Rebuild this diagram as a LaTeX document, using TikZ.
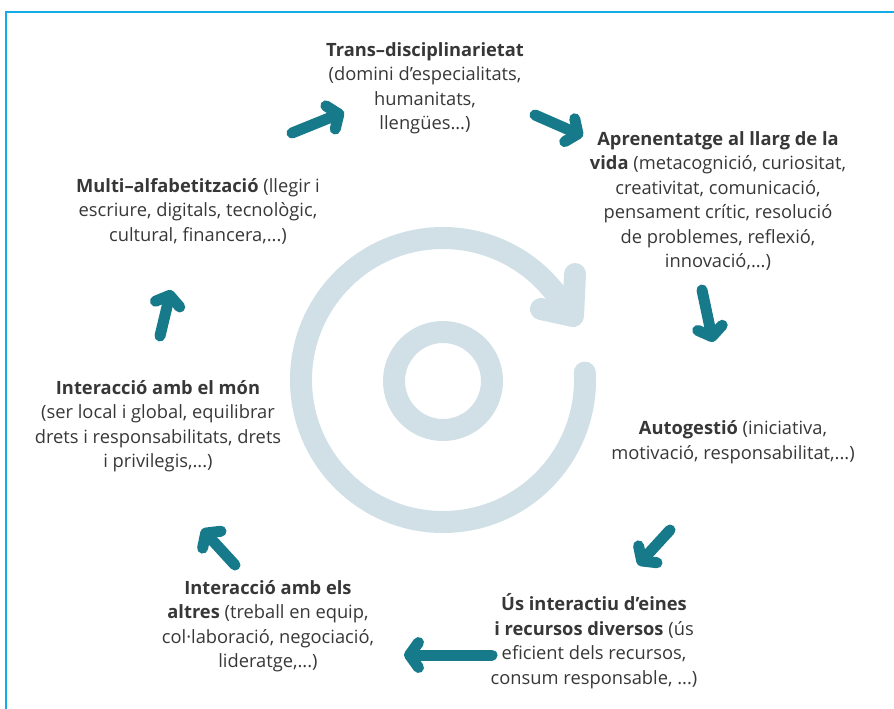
\documentclass[tikz,border=0pt]{standalone}
\usepackage{fontspec}
\setmainfont{Open Sans}
\usetikzlibrary{arrows.meta}
\definecolor{framecyan}{RGB}{20,172,230}
\definecolor{ringgrey}{RGB}{208,224,230}
\definecolor{arrowteal}{RGB}{22,122,138}
\definecolor{textgrey}{RGB}{55,55,55}

\begin{document}
\begin{tikzpicture}[x=1pt,y=-1pt,
  txt/.style={align=center,text=textgrey,inner sep=0pt,font=\fontsize{18.3}{24.5}\selectfont},
  ring/.style={draw=ringgrey,line width=22pt,line cap=round,line join=round},
  stepArrow/.style={draw=arrowteal,line width=11pt,line cap=round,
    -{Straight Barb[length=9pt,width=25pt,round]}}]
\useasboundingbox (0,0) rectangle (894,709);
% frame
\draw[framecyan,line width=2pt] (6,709) -- (6,12) -- (894,12);

% central cycle
\draw[ring] (443,380) ++(-3:142) arc[start angle=-3,end angle=332,radius=142];
\draw[ring] (575,274) -- (573,316) -- (541,309);
\draw[ring] (443,381) circle[radius=49];

% competences
\node[txt] (trans) at (425,88) {\textbf{Trans–disciplinarietat}\\(domini d’especialitats,\\humanitats,\\llengües...)};
\node[txt] (aprenentatge) at (718,201) {\textbf{Aprenentatge al llarg de la}\\\textbf{vida} (metacognició, curiositat,\\creativitat, comunicació,\\pensament crític, resolució\\de problemes, reflexió,\\innovació,...)};
\node[txt] (autogestio) at (733,442) {\textbf{Autogestió} (iniciativa,\\motivació, responsabilitat,...)};
\node[txt] (eines) at (594,641) {\textbf{Ús interactiu d’eines}\\\textbf{i recursos diversos} (ús\\eficient dels recursos,\\consum responsable, ...)};
\node[txt] (altres) at (268,626) {\textbf{Interacció amb els}\\\textbf{altres} (treball en equip,\\col·laboració, negociació,\\lideratge,...)};
\node[txt] (mon) at (158,426) {\textbf{Interacció amb el món}\\(ser local i global, equilibrar\\drets i responsabilitats, drets\\i privilegis,...)};
\node[txt] (multi) at (198,211) {\textbf{Multi–alfabetització} (llegir i\\escriure, digitals, tecnològic,\\cultural, financera,...)};

% arrows between the competences
\coordinate (a1s) at (292,133); \coordinate (a1e) at (344,112);
\coordinate (a2s) at (535,115); \coordinate (a2e) at (583,136);
\coordinate (a3s) at (702,290); \coordinate (a3e) at (713,342);
\coordinate (a4s) at (670,530); \coordinate (a4e) at (638,565);
\coordinate (a5s) at (492,655); \coordinate (a5e) at (404,655);
\coordinate (a6s) at (235,565); \coordinate (a6e) at (202,529);
\coordinate (a7s) at (160,336); \coordinate (a7e) at (171,290);
\foreach \s/\e in {a1s/a1e,a2s/a2e,a3s/a3e,a4s/a4e,a5s/a5e,a6s/a6e,a7s/a7e}
  \draw[stepArrow] (\s) -- (\e);
\end{tikzpicture}
\end{document}
